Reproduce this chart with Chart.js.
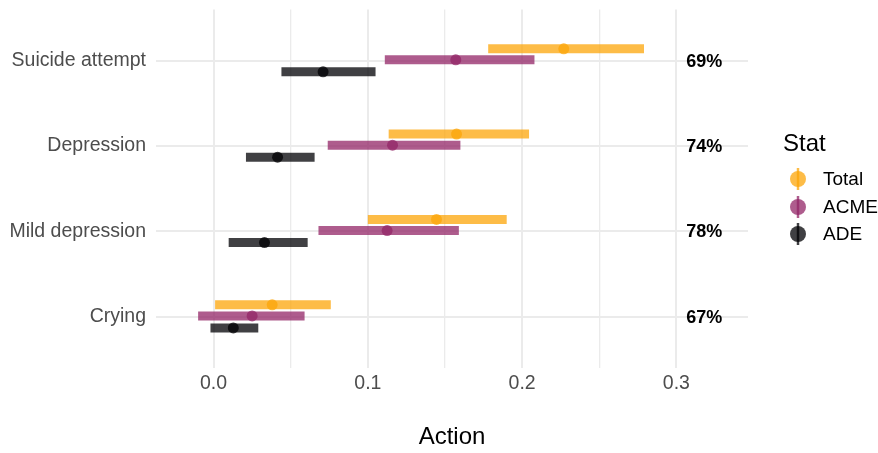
<!DOCTYPE html>
<html>
<head>
<meta charset="utf-8">
<script src="https://cdn.jsdelivr.net/npm/chart.js@4/dist/chart.umd.min.js"></script>
<style>
  html, body { margin: 0; padding: 0; background: #ffffff; }
  #wrap { position: relative; width: 878px; height: 453px; font-family: "Liberation Sans", Arial, sans-serif; }
  #chart { position: absolute; left: 0; top: 0; }
  #legend { position: absolute; left: 783px; top: 128px; color: #000; }
  #legend .title { font-size: 24px; line-height: 30px; height: 37px; }
  #legend .item { position: relative; height: 27.5px; font-size: 19px; line-height: 27.5px; padding-left: 40px; }
  #legend .item canvas { position: absolute; left: 3px; top: 0; }
</style>
</head>
<body>
<div id="wrap">
  <canvas id="chart" width="878" height="453"></canvas>
  <div id="legend"></div>
</div>
<script>
// Outcomes, top to bottom
const categories = ['Suicide attempt', 'Depression', 'Mild depression', 'Crying'];

// Total effect: estimate and interval
const totalEst  = [0.227, 0.1575, 0.1445, 0.038];
const totalLow  = [0.178, 0.1135, 0.100, 0.001];
const totalHigh = [0.279, 0.2045, 0.190, 0.076];

// ACME (mediated effect)
const acmeEst  = [0.157, 0.116, 0.1125, 0.025];
const acmeLow  = [0.111, 0.074, 0.068, -0.010];
const acmeHigh = [0.208, 0.160, 0.159, 0.059];

// ADE (direct effect)
const adeEst  = [0.071, 0.0415, 0.033, 0.0128];
const adeLow  = [0.044, 0.021, 0.0098, -0.002];
const adeHigh = [0.105, 0.0655, 0.061, 0.029];

// Proportion mediated, shown at the right of each row
const pctLabels = ['69%', '74%', '78%', '67%'];
const pctX = 0.318;

// x-axis ticks
const xTicks = [0, 0.05, 0.1, 0.15, 0.2, 0.25, 0.3];

const stats = [
  { name: 'Total', est: totalEst, low: totalLow, high: totalHigh, rgb: '252,165,10', dodge: 0.14 },
  { name: 'ACME',  est: acmeEst,  low: acmeLow,  high: acmeHigh,  rgb: '147,38,103', dodge: 0.01 },
  { name: 'ADE',   est: adeEst,   low: adeLow,   high: adeHigh,   rgb: '0,0,4',      dodge: -0.13 }
];

const rowY = i => categories.length - i;

const datasets = [];
stats.forEach(s => {
  // interval segments, separated by gaps
  const seg = [];
  categories.forEach((c, i) => {
    seg.push({ x: s.low[i], y: rowY(i) + s.dodge });
    seg.push({ x: s.high[i], y: rowY(i) + s.dodge });
    seg.push({ x: s.high[i], y: null });
  });
  datasets.push({
    label: s.name + ' interval',
    data: seg,
    showLine: true,
    spanGaps: false,
    borderColor: 'rgba(' + s.rgb + ',0.75)',
    borderWidth: 9,
    borderCapStyle: 'butt',
    pointRadius: 0,
    pointHoverRadius: 0,
    order: 2
  });
  datasets.push({
    label: s.name,
    data: categories.map((c, i) => ({ x: s.est[i], y: rowY(i) + s.dodge })),
    showLine: false,
    pointRadius: 5.5,
    pointHoverRadius: 5.5,
    pointBorderWidth: 0,
    backgroundColor: 'rgba(' + s.rgb + ',0.75)',
    borderColor: 'rgba(' + s.rgb + ',0.75)',
    order: 1
  });
});

// Percent labels drawn at pctX on each row
const pctPlugin = {
  id: 'pctLabels',
  afterDatasetsDraw(chart) {
    const { ctx, scales } = chart;
    ctx.save();
    ctx.font = 'bold 18px "Liberation Sans", Arial, sans-serif';
    ctx.fillStyle = '#000';
    ctx.textAlign = 'center';
    ctx.textBaseline = 'middle';
    pctLabels.forEach((t, i) => {
      ctx.fillText(t, scales.x.getPixelForValue(pctX), scales.y.getPixelForValue(rowY(i)) + 1);
    });
    ctx.restore();
  }
};

const tickFont = { family: '"Liberation Sans", Arial, sans-serif', size: 19.5 };

new Chart(document.getElementById('chart'), {
  type: 'scatter',
  data: { datasets },
  options: {
    responsive: false,
    animation: false,
    layout: { padding: { top: 9.5, right: 130, left: 0, bottom: 0 } },
    plugins: { legend: { display: false }, tooltip: { enabled: false } },
    scales: {
      x: {
        type: 'linear',
        min: -0.0373,
        max: 0.3464,
        afterBuildTicks: sc => { sc.ticks = xTicks.map(v => ({ value: v })); },
        afterFit: sc => { sc.height = 85; sc.paddingLeft = 0; sc.paddingRight = 0; },
        ticks: {
          font: tickFont,
          color: '#4d4d4d',
          padding: 4,
          maxRotation: 0,
          autoSkip: false,
          callback: (v, i) => (i % 2 === 0 ? v.toFixed(1) : '')
        },
        grid: {
          color: '#ebebeb',
          lineWidth: c => (c.index % 2 === 0 ? 2 : 1.3),
          drawTicks: false
        },
        border: { display: false },
        title: {
          display: true,
          text: 'Action',
          color: '#000',
          font: { family: '"Liberation Sans", Arial, sans-serif', size: 24 },
          padding: { top: 0, bottom: 1 }
        }
      },
      y: {
        type: 'linear',
        min: 0.4,
        max: 4.6,
        afterBuildTicks: sc => { sc.ticks = categories.map((c, i) => ({ value: rowY(i) })); },
        afterFit: sc => { sc.width = 156; sc.paddingTop = 0; sc.paddingBottom = 0; },
        ticks: {
          font: tickFont,
          color: '#4d4d4d',
          padding: 10,
          autoSkip: false,
          callback: v => categories[categories.length - v]
        },
        grid: { color: '#ebebeb', lineWidth: 2, drawTicks: false },
        border: { display: false }
      }
    }
  },
  plugins: [pctPlugin]
});

// Legend: key glyph is a point with a vertical range line
const legend = document.getElementById('legend');
const title = document.createElement('div');
title.className = 'title';
title.textContent = 'Stat';
legend.appendChild(title);
stats.forEach(s => {
  const item = document.createElement('div');
  item.className = 'item';
  const cv = document.createElement('canvas');
  cv.width = 24; cv.height = 28;
  const g = cv.getContext('2d');
  g.fillStyle = 'rgba(' + s.rgb + ',0.75)';
  g.beginPath(); g.arc(12, 14, 8, 0, Math.PI * 2); g.fill();
  g.strokeStyle = 'rgba(' + s.rgb + ',0.75)';
  g.lineWidth = 2.5;
  g.beginPath(); g.moveTo(12, 3); g.lineTo(12, 25); g.stroke();
  item.appendChild(cv);
  const lab = document.createElement('span');
  lab.textContent = s.name;
  item.appendChild(lab);
  legend.appendChild(item);
});
</script>
</body>
</html>
